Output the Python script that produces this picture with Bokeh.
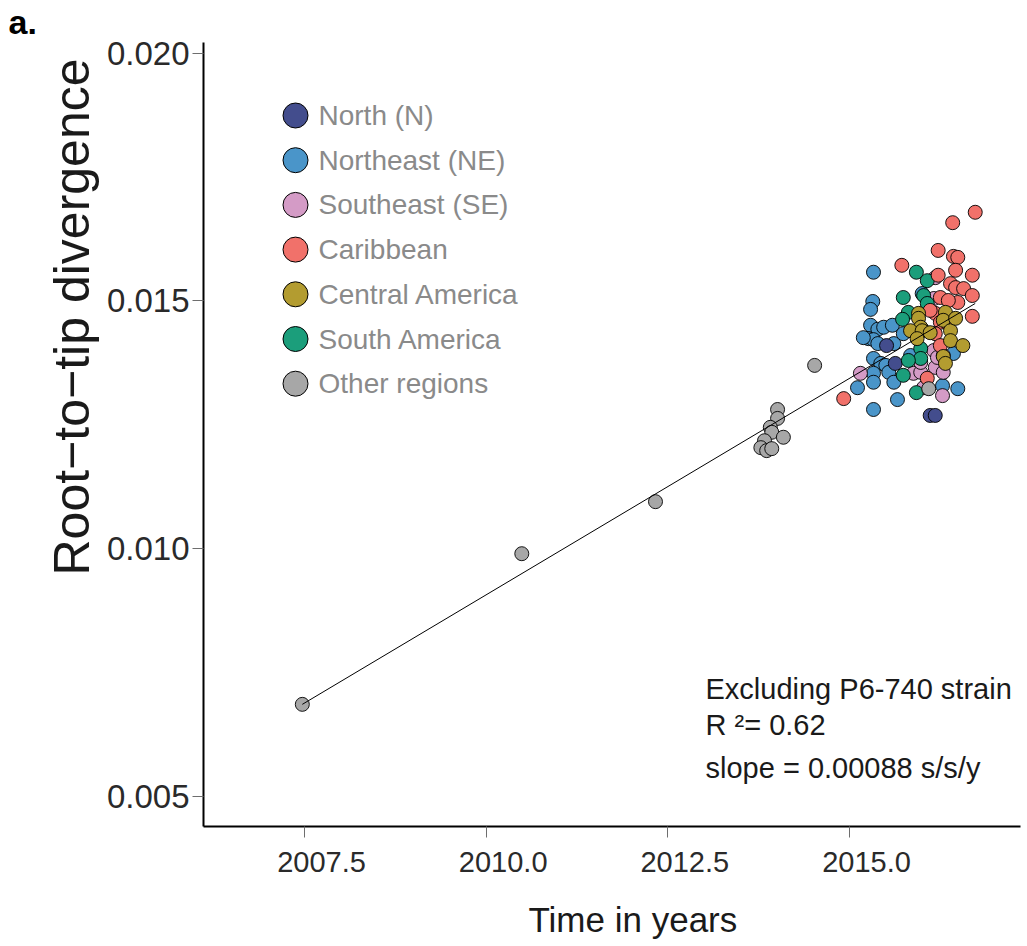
import math
from bokeh.plotting import figure
from bokeh.models import FixedTicker, PrintfTickFormatter, Label, Title, Range1d, LinearAxis
from bokeh.embed import file_html
from bokeh.resources import INLINE
from bokeh.core.properties import value

FONT = "Liberation Sans"

# ---------------- data ----------------
x_ticks = [2007.5, 2010.0, 2012.5, 2015.0]
y_ticks = [0.005, 0.010, 0.015, 0.020]

regions = ["North (N)", "Northeast (NE)", "Southeast (SE)", "Caribbean",
           "Central America", "South America", "Other regions"]
colors = ["#434d8d", "#4a95c9", "#d49bc6", "#f1716a", "#b39c30", "#1b9e7b", "#a7a7a7"]

north_t = [2015.51, 2015.63, 2016.11, 2016.18]
north_d = [0.01410, 0.01374, 0.01269, 0.01269]

northeast_t = [2015.33, 2015.32, 2015.29, 2015.29, 2015.39, 2015.47, 2015.59, 2015.26,
               2015.33, 2015.19, 2015.39, 2015.61, 2015.74, 2015.33, 2015.43, 2015.50,
               2015.33, 2015.54, 2015.61, 2015.33, 2015.11, 2015.66, 2015.33, 2016.49,
               2016.28, 2016.00, 2016.43, 2015.84]
northeast_d = [0.01558, 0.01499, 0.01483, 0.01451, 0.01443, 0.01447, 0.01451, 0.01424,
               0.01422, 0.01426, 0.01414, 0.01414, 0.01434, 0.01384, 0.01374, 0.01370,
               0.01354, 0.01356, 0.01336, 0.01336, 0.01325, 0.01301, 0.01281, 0.01323,
               0.01329, 0.01515, 0.01394, 0.01390]

southeast_t = [2015.15, 2015.88, 2015.98, 2016.18, 2016.28, 2016.16, 2016.18, 2016.21,
               2016.29, 2016.02, 2015.98, 2016.16, 2016.29]
southeast_d = [0.01354, 0.01354, 0.01356, 0.01366, 0.01309, 0.01400, 0.01547, 0.01386,
               0.01356, 0.01325, 0.01376, 0.01505, 0.01390]

caribbean_t = [2014.92, 2016.73, 2016.42, 2016.22, 2016.43, 2016.49, 2015.72, 2016.46,
               2016.69, 2016.22, 2016.39, 2016.46, 2016.57, 2016.69, 2016.25, 2016.49,
               2016.36, 2016.69, 2016.18, 2016.25, 2016.18, 2016.25, 2016.07, 2016.11,
               2016.35]
caribbean_d = [0.01303, 0.01679, 0.01658, 0.01602, 0.01590, 0.01588, 0.01572, 0.01562,
               0.01552, 0.01552, 0.01535, 0.01527, 0.01525, 0.01511, 0.01507, 0.01497,
               0.01501, 0.01469, 0.01475, 0.01457, 0.01434, 0.01410, 0.01344, 0.01481,
               0.01455]

central_t = [2015.95, 2015.95, 2015.98, 2015.84, 2016.32, 2016.29, 2016.39, 2016.39,
             2016.56, 2016.29, 2016.32, 2016.00, 2015.93, 2016.11, 2016.46]
central_d = [0.01475, 0.01465, 0.01447, 0.01440, 0.01477, 0.01461, 0.01440, 0.01420,
             0.01410, 0.01388, 0.01374, 0.01440, 0.01424, 0.01436, 0.01465]

south_t = [2015.92, 2015.74, 2016.07, 2016.02, 2015.81, 2015.73, 2016.00, 2015.98,
           2015.98, 2015.81, 2015.74, 2015.92, 2016.07]
south_d = [0.01558, 0.01507, 0.01541, 0.01511, 0.01477, 0.01463, 0.01443, 0.01404,
           0.01384, 0.01380, 0.01350, 0.01315, 0.01495]

other_t = [2007.47, 2010.49, 2012.33, 2014.52, 2014.01, 2014.01, 2013.91, 2013.93,
           2014.09, 2013.83, 2013.78, 2013.86, 2013.93, 2016.09]
other_d = [0.00686, 0.00990, 0.01095, 0.01370, 0.01281, 0.01263, 0.01245, 0.01235,
           0.01225, 0.01218, 0.01204, 0.01198, 0.01202, 0.01323]

fit_t = [2007.47, 2016.73]
fit_d = [0.00686, 0.01495]

annotation_lines = ["Excluding P6-740 strain", "R \u00b2= 0.62", "slope = 0.00088 s/s/y"]

# ---------------- layout ----------------
XR = (2006.110, 2017.353)
YR = (0.004395, 0.020216)
FW, FH = 817, 784
LEFT, TOP = 203, 42
LAB_SHIFT = 0.234   # tick labels sit slightly right of their ticks in the original

p = figure(frame_width=FW, frame_height=FH, x_range=XR, y_range=YR,
           output_backend="svg", toolbar_location=None,
           min_border_left=LEFT, min_border_right=7, min_border_top=TOP,
           min_border_bottom=120)
p.outline_line_color = None
p.grid.visible = False
p.background_fill_color = "white"
p.border_fill_color = "white"

p.title.text = "a."
p.title.align = "left"
p.title.offset = 8 - LEFT
p.title.standoff = 0
p.title.vertical_align = "top"
p.title.text_font = FONT
p.title.text_font_size = "34px"
p.title.text_font_style = "bold"
p.title.text_color = "black"

for ax in (p.xaxis[0], p.yaxis[0]):
    ax.axis_line_color = "black"
    ax.axis_line_width = 2
    ax.major_tick_line_color = "#6e6e6e"
    ax.major_tick_line_width = 1
    ax.major_tick_out = 11
    ax.major_tick_in = 0
    ax.minor_tick_out = 0
    ax.minor_tick_in = 0
    ax.major_label_text_font = FONT
    ax.major_label_text_color = "#2a2a2a"

xa = p.xaxis[0]
xa.ticker = FixedTicker(ticks=x_ticks)
xa.major_label_overrides = {t: "" for t in x_ticks}
xa.major_label_text_font_size = "0px"
xa.major_label_standoff = 0

ya = p.yaxis[0]
ya.ticker = FixedTicker(ticks=y_ticks)
ya.formatter = PrintfTickFormatter(format="%.3f")
ya.major_label_standoff = 3
ya.major_label_text_font_size = "33px"

p.extra_x_ranges = {"lab": Range1d(XR[0] - LAB_SHIFT, XR[1] - LAB_SHIFT)}
lab = LinearAxis(x_range_name="lab", ticker=FixedTicker(ticks=x_ticks),
                 formatter=PrintfTickFormatter(format="%.1f"))
lab.axis_line_color = None
lab.major_tick_line_color = None
lab.minor_tick_line_color = None
lab.major_tick_out = 0
lab.major_tick_in = 0
lab.minor_tick_out = 0
lab.minor_tick_in = 0
lab.major_label_standoff = 14
lab.major_label_text_font = FONT
lab.major_label_text_font_size = "29px"
lab.major_label_text_color = "#2a2a2a"
p.add_layout(lab, "below")

series = [(north_t, north_d), (northeast_t, northeast_d), (southeast_t, southeast_d),
          (caribbean_t, caribbean_d), (central_t, central_d), (south_t, south_d),
          (other_t, other_d)]

draw_order = [1, 0, 2, 5, 3, 4, 6]
for i in draw_order:
    t, d = series[i]
    p.scatter(t, d, size=14, fill_color=colors[i], line_color="black", line_width=0.9)

p.line(fit_t, fit_d, line_color="black", line_width=1)


def fx(px):
    return XR[0] + (px - LEFT) / FW * (XR[1] - XR[0])


def fy(py):
    return YR[1] - (py - TOP) / FH * (YR[1] - YR[0])


# manual legend
leg_y = [fy(115 + 44.7 * i) for i in range(len(regions))]
p.scatter([fx(295)] * len(regions), leg_y, size=25, fill_color=colors,
          line_color="black", line_width=1)
p.text([fx(318)] * len(regions), leg_y, text=regions, text_font=value(FONT),
       text_font_size="28px", text_color="#8a8a8a", text_baseline="middle",
       text_align="left")

# annotation (inside the frame)
for txt, base in zip(annotation_lines, [688, 724, 767]):
    p.add_layout(Label(x=705 - LEFT, y=TOP + FH - base, x_units="screen", y_units="screen",
                       text=txt, text_font=FONT, text_font_size="29px",
                       text_color="#1a1a1a", text_baseline="alphabetic"))

# blank white spacer pushing the x title down, then the axis titles as side-panel titles
p.add_layout(Title(text=" ", text_font_size="19px", standoff=0, text_color="white"), "below")
p.add_layout(Title(text="Time in years", align="left", offset=528 - LEFT,
                   standoff=0, vertical_align="bottom", text_font=FONT,
                   text_font_size="35px", text_font_style="normal",
                   text_color="#1a1a1a"), "below")
p.add_layout(Title(text="Root\u2212to\u2212tip divergence", align="left", offset=251,
                   standoff=8, vertical_align="bottom", text_font=FONT,
                   text_font_size="50px", text_font_style="normal",
                   text_color="#1a1a1a"), "left")

open("out.html", "w").write(file_html(p, INLINE))
